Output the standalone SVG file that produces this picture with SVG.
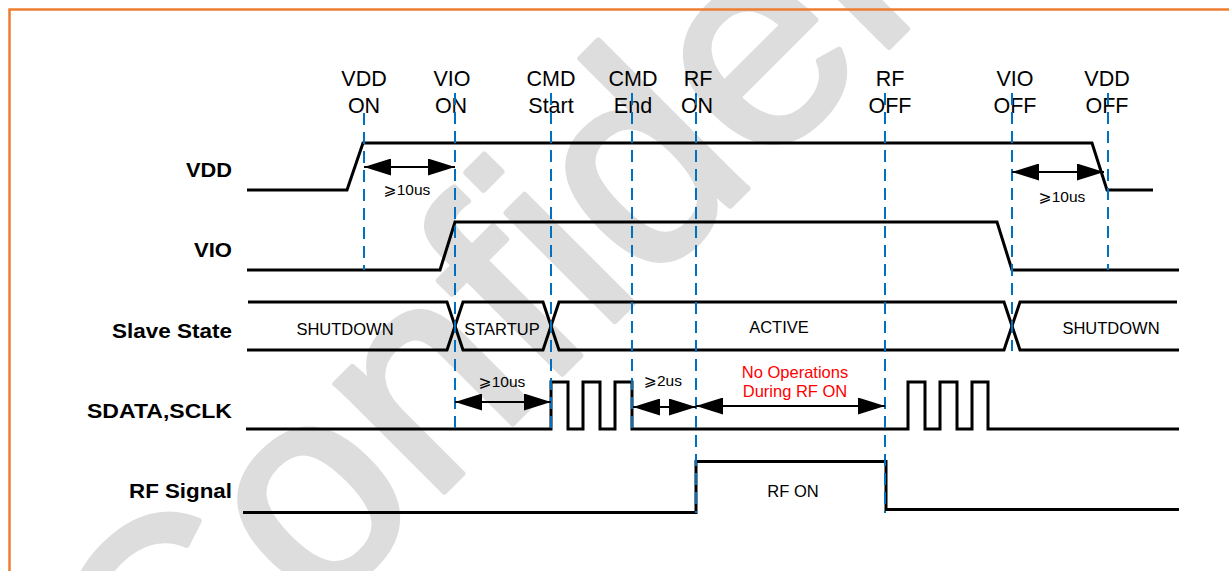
<svg xmlns="http://www.w3.org/2000/svg" width="1229" height="571" viewBox="0 0 1229 571">
<style>
.bg{fill:#ffffff}
.frame{fill:none;stroke:#ED7D31;stroke-width:2.5}
.wm{font-family:"Liberation Sans",Arial,sans-serif;fill:#dddddd;stroke:#dddddd;stroke-width:6;stroke-linejoin:round}
.lbl{font-family:"Liberation Sans",Arial,sans-serif;font-weight:bold;font-size:20px;fill:#000;text-anchor:end}
.evt{font-family:"Liberation Sans",Arial,sans-serif;font-size:21.5px;fill:#000;text-anchor:middle}
.st{font-family:"Liberation Sans",Arial,sans-serif;font-size:16.5px;fill:#000;text-anchor:middle}
.tm{font-family:"Liberation Sans","DejaVu Sans",sans-serif;font-size:15.5px;fill:#000;text-anchor:middle}
.red{font-family:"Liberation Sans",Arial,sans-serif;font-size:16.5px;fill:#FF0000;text-anchor:middle}
.sig{fill:none;stroke:#000;stroke-width:3;stroke-linejoin:miter}
.guide{fill:none;stroke:#0070C0;stroke-width:2;stroke-dasharray:12 7}
.dim{fill:none;stroke:#000;stroke-width:2;marker-start:url(#ah);marker-end:url(#ah)}
</style>
<defs>
<marker id="ah" viewBox="0 0 27 17" refX="27" refY="8.5" markerWidth="27" markerHeight="17" markerUnits="userSpaceOnUse" orient="auto-start-reverse">
<path d="M0,0 L27,8.5 L0,17 z" fill="#000"/>
</marker>
</defs>
<rect class="bg" x="0" y="0" width="1229" height="571"/>
<text class="wm" font-size="290" transform="translate(168,768) rotate(-45)">Confidential</text>
<rect class="frame" x="9.5" y="9.5" width="1250" height="600"/>

<g id="signal-labels">
<text class="lbl" x="232" y="177" textLength="46" lengthAdjust="spacingAndGlyphs">VDD</text>
<text class="lbl" x="232" y="257" textLength="38" lengthAdjust="spacingAndGlyphs">VIO</text>
<text class="lbl" x="232" y="338" textLength="120" lengthAdjust="spacingAndGlyphs">Slave State</text>
<text class="lbl" x="232" y="418" textLength="145" lengthAdjust="spacingAndGlyphs">SDATA,SCLK</text>
<text class="lbl" x="232" y="498" textLength="103" lengthAdjust="spacingAndGlyphs">RF Signal</text>
</g>

<g id="event-labels">
<text class="evt" x="364" y="86">VDD</text><text class="evt" x="364" y="113">ON</text>
<text class="evt" x="452" y="86">VIO</text><text class="evt" x="451" y="113">ON</text>
<text class="evt" x="551" y="86">CMD</text><text class="evt" x="551" y="113">Start</text>
<text class="evt" x="633" y="86">CMD</text><text class="evt" x="633" y="113">End</text>
<text class="evt" x="698" y="86">RF</text><text class="evt" x="697" y="113">ON</text>
<text class="evt" x="890" y="86">RF</text><text class="evt" x="890" y="113">OFF</text>
<text class="evt" x="1015" y="86">VIO</text><text class="evt" x="1015" y="113">OFF</text>
<text class="evt" x="1107" y="86">VDD</text><text class="evt" x="1107" y="113">OFF</text>
</g>

<g id="signals">
<path id="vdd" class="sig" d="M247,190 H347 L363,143 H1092 L1107,190 H1153"/>
<path id="vio" class="sig" d="M247,270 H440 L455,222 H997 L1012,270 H1179"/>
<g id="slave-state">
<path class="sig" d="M248,302 H447 L463,350 H543 L559,302 H1004 L1020,350 H1179"/>
<path class="sig" d="M247,350 H447 L463,302 H543 L559,350 H1004 L1020,302 H1177"/>
<text class="st" x="345" y="335">SHUTDOWN</text>
<text class="st" x="502" y="335">STARTUP</text>
<text class="st" x="779" y="333">ACTIVE</text>
<text class="st" x="1111" y="334">SHUTDOWN</text>
</g>
<path id="sdata" class="sig" d="M246,429 H551 V382 H568 V429 H583 V382 H600 V429 H615 V382 H632 V429 H908 V382 H925 V429 H940 V382 H957 V429 H972 V382 H988 V429 H1179"/>
<g id="rf">
<path class="sig" d="M243,512.5 H696 V461.5 H886 V509.5 H1179"/>
<text class="st" x="793" y="497">RF ON</text>
</g>
</g>

<g id="guides">
<line class="guide" x1="364" y1="113" x2="364" y2="270"/>
<line class="guide" x1="455" y1="93" x2="455" y2="430"/>
<line class="guide" x1="551" y1="93" x2="551" y2="430"/>
<line class="guide" x1="632" y1="93" x2="632" y2="430"/>
<line class="guide" x1="696" y1="93" x2="696" y2="513"/>
<line class="guide" x1="885" y1="93" x2="885" y2="513"/>
<line class="guide" x1="1012" y1="93" x2="1012" y2="351"/>
<line class="guide" x1="1108" y1="93" x2="1108" y2="270"/>
</g>

<g id="connectors">
<path class="dim" d="M364,167 H455"/>
<path class="dim" d="M1012,172 H1104"/>
<path class="dim" d="M455,402 H551"/>
<path class="dim" d="M633,407 H696"/>
<path class="dim" d="M696,406 H885"/>
</g>

<g id="timing-labels">
<text class="tm" x="407" y="195">⩾10us</text>
<text class="tm" x="1062" y="202">⩾10us</text>
<text class="tm" x="502" y="387">⩾10us</text>
<text class="tm" x="663" y="386">⩾2us</text>
<text class="red" x="795" y="378">No Operations</text>
<text class="red" x="795" y="397">During RF ON</text>
</g>
</svg>
